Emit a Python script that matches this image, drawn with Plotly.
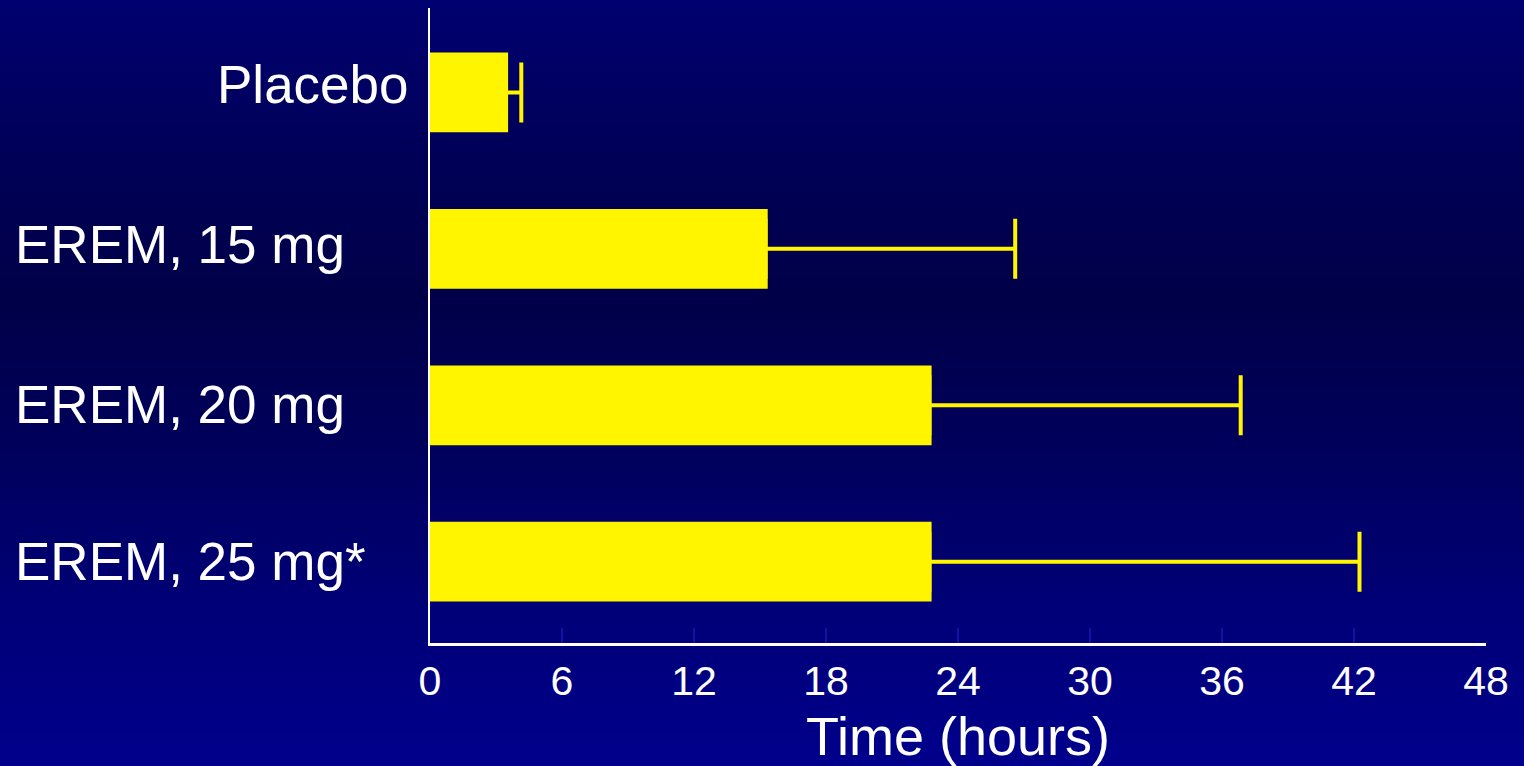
import base64
import struct
import zlib

import plotly.graph_objects as go

# ---- data ----
categories = ["Placebo", "EREM, 15 mg", "EREM, 20 mg", "EREM, 25 mg*"]
mean_hours = [3.55, 15.35, 22.8, 22.8]
err_plus = [0.6, 11.25, 14.05, 19.45]
x_ticks = [0, 6, 12, 18, 24, 30, 36, 42, 48]

# ---- layout geometry (pixels) ----
W, H = 1524, 766
L, R, T, B = 430, 38, 8, 123
pw, ph = W - L - R, H - T - B

# ---- background gradient image ----
stops = [(0, 112), (150, 88), (300, 72), (450, 92), (600, 118), (766, 140)]


def blue_at(y):
    for (y0, b0), (y1, b1) in zip(stops[:-1], stops[1:]):
        if y0 <= y <= y1:
            t = (y - y0) / (y1 - y0)
            return int(round(b0 + t * (b1 - b0)))
    return stops[-1][1]


def make_png(height):
    raw = b""
    for y in range(height):
        raw += b"\x00" + bytes([0, 0, blue_at(y)])
    def chunk(tag, data):
        c = struct.pack(">I", len(data)) + tag + data
        return c + struct.pack(">I", zlib.crc32(tag + data) & 0xFFFFFFFF)
    png = b"\x89PNG\r\n\x1a\n"
    png += chunk(b"IHDR", struct.pack(">IIBBBBB", 1, height, 8, 2, 0, 0, 0))
    png += chunk(b"IDAT", zlib.compress(raw))
    png += chunk(b"IEND", b"")
    return "data:image/png;base64," + base64.b64encode(png).decode()


bg_src = make_png(H)

yellow = "#FFF500"
font_family = "Liberation Sans, Arial, sans-serif"

# tiny minus-side offset keeps plotly's error-bar "shoe" hidden inside the bar
hidden_minus = [0.1] * len(err_plus)

fig = go.Figure(
    go.Bar(
        x=mean_hours,
        y=categories,
        orientation="h",
        width=0.51,
        marker=dict(color=yellow, line=dict(width=0)),
        error_x=dict(
            type="data",
            array=err_plus,
            arrayminus=hidden_minus,
            symmetric=False,
            color=yellow,
            thickness=4,
            width=30,
        ),
        hoverinfo="skip",
    )
)

# category labels positioned like the original slide text
label_x = [-(L - 411) / pw, -(L - 13) / pw, -(L - 13) / pw, -(L - 13) / pw]
label_anchor = ["right", "left", "left", "left"]
label_shift = [8, 4, 1, 0]
for cat, lx, anc, sh in zip(categories, label_x, label_anchor, label_shift):
    fig.add_annotation(
        x=lx, xref="paper", y=cat, yref="y",
        text=cat, showarrow=False, xanchor=anc, yanchor="middle",
        yshift=sh,
        font=dict(family=font_family, size=53, color="white"),
    )

fig.update_layout(
    width=W,
    height=H,
    margin=dict(l=L, r=R, t=T, b=B, pad=0, autoexpand=False),
    paper_bgcolor="#000058",
    plot_bgcolor="rgba(0,0,0,0)",
    showlegend=False,
    images=[
        dict(
            source=bg_src,
            xref="paper", yref="paper",
            x=-L / pw, y=1 + T / ph,
            sizex=W / pw, sizey=H / ph,
            xanchor="left", yanchor="top",
            sizing="stretch",
            layer="below",
        )
    ],
    xaxis=dict(
        range=[0, 48],
        tickvals=x_ticks,
        ticktext=[str(v) for v in x_ticks],
        showgrid=False,
        zeroline=False,
        showline=True,
        linecolor="white",
        linewidth=3,
        ticks="inside",
        ticklen=15,
        tickwidth=2,
        tickcolor="#12129c",
        tickfont=dict(family=font_family, size=41, color="white"),
        ticklabelstandoff=0,
        automargin=False,
        title=dict(
            text="Time (hours)",
            font=dict(family=font_family, size=54, color="white"),
            standoff=24,
        ),
    ),
    yaxis=dict(
        type="category",
        categoryorder="array",
        categoryarray=categories,
        range=[3.52, -0.54],
        showticklabels=False,
        showgrid=False,
        zeroline=False,
        showline=True,
        linecolor="white",
        linewidth=2,
        ticks="",
        automargin=False,
    ),
)

fig.write_html(
    "out.html",
    config={"displayModeBar": False, "staticPlot": True},
    post_script="document.body.style.margin='0';document.body.style.padding='0';"
    "document.body.style.overflow='hidden';",
)
